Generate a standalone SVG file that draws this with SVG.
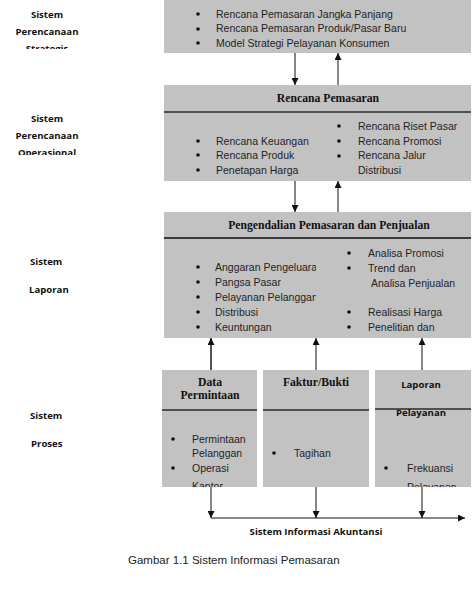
<svg xmlns="http://www.w3.org/2000/svg" width="474" height="592" viewBox="0 0 474 592">
<style>
.box{fill:#c2c2c2;}
.hl{stroke:#2a2a2a;stroke-width:1.5;}
.t{font-family:"Liberation Sans",Arial,sans-serif;font-size:10.5px;fill:#222;}
.h{font-family:"Liberation Serif","Times New Roman",serif;font-size:11.7px;font-weight:bold;fill:#111;text-anchor:middle;}
.l{font-family:"Open Sans","Liberation Sans",sans-serif;font-size:9.6px;font-weight:bold;fill:#111;}
.c{text-anchor:middle;}
.b{fill:#111;}
.ar{stroke:#111;stroke-width:1;fill:none;}
</style>
<defs>
<marker id="ah" viewBox="0 0 10 10" refX="10" refY="5" markerWidth="7" markerHeight="7" orient="auto" markerUnits="userSpaceOnUse">
<path d="M0,0 L10,5 L0,10 z" fill="#111"/>
</marker>
<clipPath id="cl1"><rect x="0" y="0" width="160" height="49"/></clipPath>
<clipPath id="cl2"><rect x="0" y="100" width="160" height="55"/></clipPath>
<clipPath id="c3l"><rect x="164" y="238" width="152" height="100"/></clipPath>
<clipPath id="cA"><rect x="162" y="370" width="95" height="117"/></clipPath>
<clipPath id="cC"><rect x="375" y="370" width="96" height="117"/></clipPath>
</defs>

<g id="labels">
<g clip-path="url(#cl1)">
<text class="l c" x="47" y="18">Sistem</text>
<text class="l c" x="47" y="35">Perencanaan</text>
<text class="l c" x="47" y="52">Strategis</text>
</g>
<g clip-path="url(#cl2)">
<text class="l c" x="47" y="122">Sistem</text>
<text class="l c" x="47" y="139">Perencanaan</text>
<text class="l c" x="47" y="156">Operasional</text>
</g>
<text class="l" x="30" y="265">Sistem</text>
<text class="l" x="29" y="293">Laporan</text>
<text class="l" x="30" y="419">Sistem</text>
<text class="l" x="31" y="447">Proses</text>
</g>

<g id="strategis">
<rect class="box" x="164" y="0" width="307" height="53"/>
<circle class="b" cx="198" cy="14" r="1.8"/>
<circle class="b" cx="198" cy="29" r="1.8"/>
<circle class="b" cx="198" cy="43" r="1.8"/>
<text class="t" x="216" y="18">Rencana Pemasaran Jangka Panjang</text>
<text class="t" x="216" y="32">Rencana Pemasaran Produk/Pasar Baru</text>
<text class="t" x="216" y="47">Model Strategi Pelayanan Konsumen</text>
</g>

<g id="rencana">
<rect class="box" x="164" y="85" width="307" height="96"/>
<line class="hl" x1="164" y1="112" x2="471" y2="112"/>
<text class="h" x="328" y="102">Rencana Pemasaran</text>
<circle class="b" cx="198" cy="141" r="1.8"/>
<circle class="b" cx="198" cy="155" r="1.8"/>
<circle class="b" cx="198" cy="170" r="1.8"/>
<text class="t" x="216" y="145">Rencana Keuangan</text>
<text class="t" x="216" y="159">Rencana Produk</text>
<text class="t" x="216" y="174">Penetapan Harga</text>
<circle class="b" cx="339" cy="126" r="1.8"/>
<circle class="b" cx="339" cy="141" r="1.8"/>
<circle class="b" cx="339" cy="156" r="1.8"/>
<text class="t" x="358" y="130">Rencana Riset Pasar</text>
<text class="t" x="358" y="145">Rencana Promosi</text>
<text class="t" x="358" y="159">Rencana Jalur</text>
<text class="t" x="358" y="174">Distribusi</text>
</g>

<g id="pengendalian">
<rect class="box" x="164" y="212" width="307" height="126"/>
<line x1="164" y1="238" x2="471" y2="238" stroke="#3a3a3a" stroke-width="2"/>
<text class="h" x="329" y="229">Pengendalian Pemasaran dan Penjualan</text>
<circle class="b" cx="198" cy="267" r="1.8"/>
<circle class="b" cx="198" cy="282" r="1.8"/>
<circle class="b" cx="198" cy="297" r="1.8"/>
<circle class="b" cx="198" cy="312" r="1.8"/>
<circle class="b" cx="198" cy="327" r="1.8"/>
<g clip-path="url(#c3l)">
<text class="t" x="215" y="271">Anggaran Pengeluaran</text>
<text class="t" x="215" y="286">Pangsa Pasar</text>
<text class="t" x="215" y="301">Pelayanan Pelanggan</text>
<text class="t" x="215" y="316">Distribusi</text>
<text class="t" x="215" y="331">Keuntungan</text>
</g>
<circle class="b" cx="349" cy="253" r="1.8"/>
<circle class="b" cx="349" cy="268" r="1.8"/>
<circle class="b" cx="349" cy="312" r="1.8"/>
<circle class="b" cx="349" cy="327" r="1.8"/>
<text class="t" x="368" y="257">Analisa Promosi</text>
<text class="t" x="368" y="272">Trend dan</text>
<text class="t" x="371" y="287">Analisa Penjualan</text>
<text class="t" x="368" y="316">Realisasi Harga</text>
<text class="t" x="368" y="331">Penelitian dan</text>
</g>

<g id="data-permintaan">
<rect class="box" x="162" y="370" width="95" height="117"/>
<line class="hl" x1="162" y1="410" x2="257" y2="410"/>
<text class="h" x="210" y="386">Data</text>
<text class="h" x="210" y="399">Permintaan</text>
<g clip-path="url(#cA)">
<circle class="b" cx="173" cy="439" r="1.8"/>
<circle class="b" cx="173" cy="468" r="1.8"/>
<text class="t" x="192" y="443">Permintaan</text>
<text class="t" x="192" y="457">Pelanggan</text>
<text class="t" x="192" y="472">Operasi</text>
<text class="t" x="192" y="490">Kantor</text>
</g>
</g>

<g id="faktur">
<rect class="box" x="263" y="370" width="106" height="117"/>
<line class="hl" x1="263" y1="410" x2="369" y2="410"/>
<text class="h" x="316" y="386">Faktur/Bukti</text>
<circle class="b" cx="274" cy="453" r="1.8"/>
<text class="t" x="294" y="457">Tagihan</text>
</g>

<g id="laporan-pelayanan">
<rect class="box" x="375" y="370" width="96" height="117"/>
<line class="hl" x1="375" y1="409" x2="471" y2="409"/>
<text class="l c" x="421" y="388">Laporan</text>
<text class="l c" x="421" y="416">Pelayanan</text>
<g clip-path="url(#cC)">
<circle class="b" cx="386" cy="468" r="1.8"/>
<text class="t" x="407" y="472">Frekuansi</text>
<text class="t" x="407" y="491">Pelayanan</text>
</g>
</g>

<g id="connectors">
<line class="ar" x1="295" y1="53" x2="295" y2="85" marker-end="url(#ah)"/>
<line class="ar" x1="338" y1="85" x2="338" y2="53" marker-end="url(#ah)"/>
<line class="ar" x1="295" y1="181" x2="295" y2="212" marker-end="url(#ah)"/>
<line class="ar" x1="338" y1="212" x2="338" y2="181" marker-end="url(#ah)"/>
<line x1="211" y1="370" x2="211" y2="338" stroke="#555" stroke-width="2" marker-end="url(#ah)"/>
<line class="ar" x1="316" y1="370" x2="316" y2="338" marker-end="url(#ah)"/>
<line class="ar" x1="422" y1="370" x2="422" y2="338" marker-end="url(#ah)"/>
<line class="ar" x1="211" y1="487" x2="211" y2="518" marker-end="url(#ah)"/>
<line class="ar" x1="316" y1="487" x2="316" y2="518" marker-end="url(#ah)"/>
<line class="ar" x1="422" y1="487" x2="422" y2="518" marker-end="url(#ah)"/>
<line class="ar" x1="211" y1="518" x2="465" y2="518" marker-end="url(#ah)"/>
</g>

<text class="l c" x="316" y="535">Sistem Informasi Akuntansi</text>
<text class="t" x="128" y="564" style="font-size:11.5px">Gambar 1.1 Sistem Informasi Pemasaran</text>
</svg>
